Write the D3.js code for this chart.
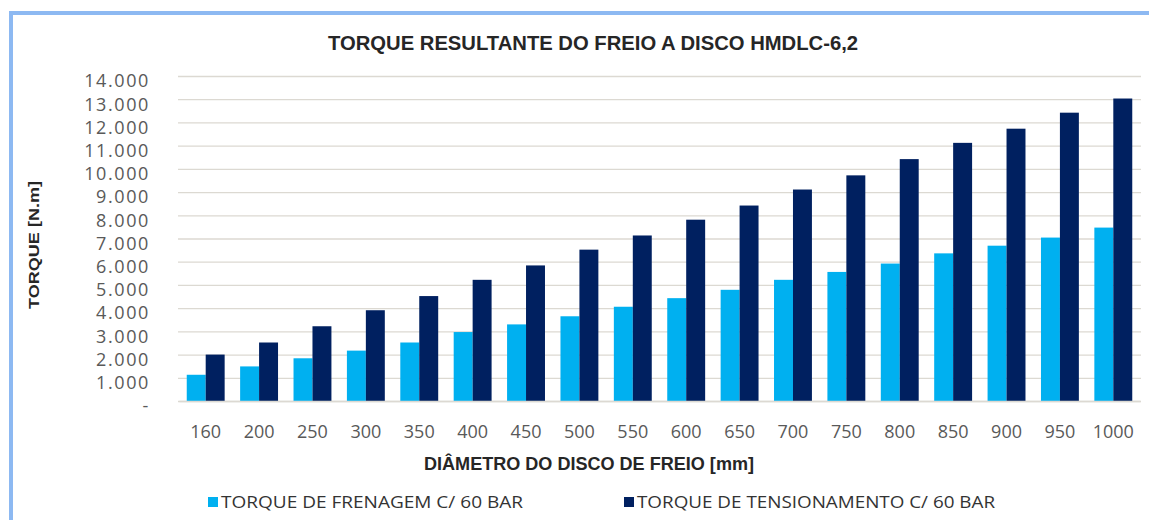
<!DOCTYPE html>
<html>
<head>
  <meta charset="utf-8">
  <script src="https://d3js.org/d3.v7.min.js"></script>
  <style>
    body { margin: 0; background: #fff; }
  </style>
</head>
<body>
    <div id="chart"></div>
</body>

<script>

    // diametros do disco (mm)
    var diametros = ['160', '200', '250', '300', '350', '400', '450', '500', '550',
                     '600', '650', '700', '750', '800', '850', '900', '950', '1000']

    // torque de frenagem c/ 60 bar (N.m)
    var frenagem = [1130, 1490, 1840, 2170, 2520, 2970, 3300, 3650, 4060,
                    4430, 4790, 5220, 5560, 5920, 6360, 6690, 7040, 7470]

    // torque de tensionamento c/ 60 bar (N.m)
    var tensionamento = [2000, 2520, 3220, 3910, 4520, 5220, 5840, 6520, 7130,
                         7810, 8420, 9110, 9720, 10420, 11120, 11730, 12420, 13030]

    var seriesNames = ['TORQUE DE FRENAGEM C/ 60 BAR', 'TORQUE DE TENSIONAMENTO C/ 60 BAR']
    var seriesColors = ['#00b0f0', '#002060']
    var yTicks = [0, 1000, 2000, 3000, 4000, 5000, 6000, 7000, 8000, 9000, 10000, 11000, 12000, 13000, 14000]

    const width = 1149,
        height = 520

    const margin = { top: 76, right: 9, bottom: 119, left: 179 }

    var data = diametros.map((d, i) => ({ diametro: d, values: [frenagem[i], tensionamento[i]] }))

    var svg = d3.select('#chart').append('svg')
        .attr('width', width)
        .attr('height', height)

    // moldura azul da imagem
    svg.append('rect')
        .attr('x', 11)
        .attr('y', 13)
        .attr('width', width + 20)
        .attr('height', height + 20)
        .attr('fill', 'none')
        .attr('stroke', '#8db9f2')
        .attr('stroke-width', 4)

    var xScale = d3.scaleBand()
        .domain(diametros)
        .range([margin.left, width - margin.right])
        .paddingInner(0.29)
        .paddingOuter(0.145)

    var xSub = d3.scaleBand()
        .domain([0, 1])
        .range([0, xScale.bandwidth()])

    var yScale = d3.scaleLinear()
        .domain([0, 14000])
        .range([height - margin.bottom, margin.top])

    var fmt = d => d === 0 ? '-' : d3.format(',')(d).replace(/,/g, '.')

    // linhas de grade
    svg.append('g')
        .attr('class', 'grid')
        .attr('transform', `translate(${margin.left - 1},0)`)
        .call(d3.axisLeft(yScale)
            .tickValues(yTicks)
            .tickSize(-(width - margin.right - margin.left + 2))
            .tickFormat(''))
        .call(g => g.select('.domain').remove())
        .call(g => g.selectAll('line').attr('stroke', '#dcd9d2').attr('stroke-width', 1.3))

    // eixo y
    svg.append('g')
        .attr('transform', `translate(150,0)`)
        .call(d3.axisLeft(yScale).tickValues(yTicks).tickSize(0).tickPadding(0).tickFormat(fmt))
        .call(g => g.select('.domain').remove())
        .call(g => g.selectAll('text')
            .attr('fill', '#595959')
            .attr('font-family', 'Open Sans')
            .attr('font-size', 18)
            .attr('letter-spacing', 1.6)
            .attr('dy', '0.6em'))

    // barras
    var groups = svg.selectAll('.grupo')
        .data(data).enter()
        .append('g')
        .attr('class', 'grupo')
        .attr('transform', d => `translate(${xScale(d.diametro)},0)`)

    groups.selectAll('rect')
        .data(d => d.values).enter()
        .append('rect')
        .attr('x', (d, i) => xSub(i))
        .attr('width', xSub.bandwidth())
        .attr('y', d => yScale(d))
        .attr('height', d => yScale(0) - yScale(d))
        .attr('fill', (d, i) => seriesColors[i])

    // eixo x
    svg.append('g')
        .attr('transform', `translate(0,${yScale(0)})`)
        .call(d3.axisBottom(xScale).tickSize(0).tickPadding(0))
        .call(g => g.select('.domain').attr('stroke', '#dcd9d2').attr('stroke-width', 1.3))
        .call(g => g.selectAll('text')
            .attr('fill', '#595959')
            .attr('font-family', 'Open Sans')
            .attr('font-size', 18)
            .attr('y', 37)
            .attr('dy', 0))

    // titulos
    svg.append('text')
        .attr('x', 593)
        .attr('y', 50)
        .attr('text-anchor', 'middle')
        .attr('font-family', 'Liberation Sans')
        .attr('font-weight', 'bold')
        .attr('font-size', 20)
        .attr('fill', '#262626')
        .attr('textLength', 530)
        .attr('lengthAdjust', 'spacingAndGlyphs')
        .text('TORQUE RESULTANTE DO FREIO A DISCO HMDLC-6,2')

    svg.append('text')
        .attr('x', 589)
        .attr('y', 470)
        .attr('text-anchor', 'middle')
        .attr('font-family', 'Liberation Sans')
        .attr('font-weight', 'bold')
        .attr('font-size', 18)
        .attr('fill', '#262626')
        .attr('textLength', 330)
        .attr('lengthAdjust', 'spacingAndGlyphs')
        .text('DIÂMETRO DO DISCO DE FREIO [mm]')

    svg.append('text')
        .attr('transform', 'translate(39,245) rotate(-90)')
        .attr('text-anchor', 'middle')
        .attr('font-family', 'Liberation Sans')
        .attr('font-weight', 'bold')
        .attr('font-size', 14)
        .attr('fill', '#262626')
        .attr('textLength', 128)
        .attr('lengthAdjust', 'spacingAndGlyphs')
        .text('TORQUE [N.m]')

    // legenda
    var legendX = [208, 624],
        legendLen = [302, 358]
    var legend = svg.selectAll('.legenda')
        .data(seriesNames).enter()
        .append('g')
        .attr('class', 'legenda')
        .attr('transform', (d, i) => `translate(${legendX[i]},497)`)

    legend.append('rect')
        .attr('width', 10)
        .attr('height', 10)
        .attr('fill', (d, i) => seriesColors[i])

    legend.append('text')
        .attr('x', 13)
        .attr('y', 11)
        .attr('font-family', 'Open Sans')
        .attr('font-size', 16)
        .attr('fill', '#333333')
        .attr('textLength', (d, i) => legendLen[i])
        .attr('lengthAdjust', 'spacingAndGlyphs')
        .text(d => d)

</script>
</html>
